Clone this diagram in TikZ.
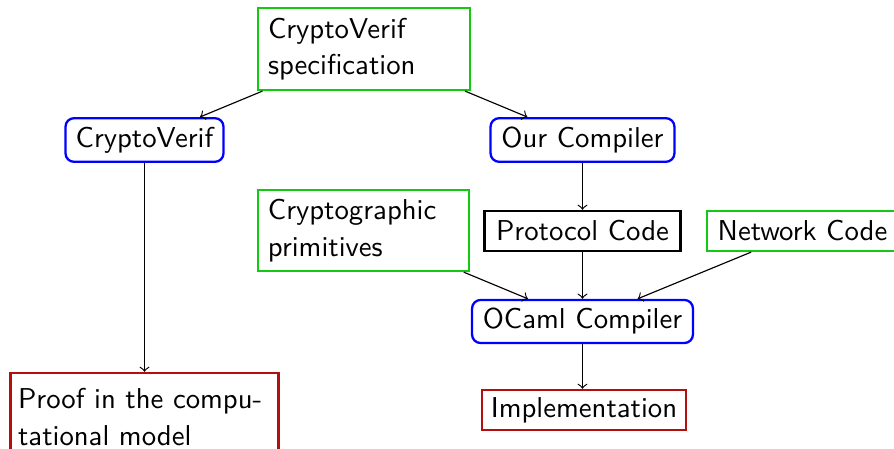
\documentclass[tikz,border=0pt]{standalone}
\definecolor{boxgreen}{RGB}{20,200,20}
\definecolor{boxred}{RGB}{180,15,15}
\begin{document}
\begin{tikzpicture}[x=0.348pt,y=-0.348pt,
  font=\sffamily\fontsize{10}{12.7}\selectfont,
  basebox/.style={draw, line width=0.8pt, inner sep=0pt, minimum height=13.9pt},
  gbox/.style={basebox, draw=boxgreen},
  bbox/.style={basebox, draw=blue, rounded corners=3pt, minimum height=15.2pt},
  rbox/.style={basebox, draw=boxred},
  kbox/.style={basebox, draw=black},
  multi/.style={align=left, text width=#1},
  conn/.style={->, line width=0.4pt}
]
\useasboundingbox (0,0) rectangle (894,449);

\node[gbox, minimum width=73.8pt, minimum height=28.5pt, multi=66.8pt] (spec) at (364,49) {CryptoVerif\\specification};
\node[bbox, minimum width=55pt] (cv) at (144.5,140) {CryptoVerif};
\node[bbox, minimum width=64pt] (oc) at (582.5,140) {Our Compiler};
\node[gbox, minimum width=73.4pt, minimum height=28.2pt, multi=66.5pt] (prim) at (363.5,230.5) {Cryptographic\\primitives};
\node[kbox, minimum width=68.2pt] (pc) at (582.5,231) {Protocol Code};
\node[gbox, minimum width=66.5pt] (nc) at (802.5,231) {Network Code};
\node[bbox, minimum width=76.9pt, minimum height=15pt] (ocaml) at (582.5,321.5) {OCaml Compiler};
\node[rbox, minimum width=93.3pt, minimum height=30.6pt, multi=88pt] (proof) at (144.5,417) {Proof in the compu-\\tational model};
\node[rbox, minimum width=71pt] (impl) at (584,410) {Implementation};

\draw[conn] (spec) -- (cv);
\draw[conn] (spec) -- (oc);
\draw[conn] (cv) -- (proof);
\draw[conn] (oc) -- (pc);
\draw[conn] (pc) -- (ocaml);
\draw[conn] (prim) -- (ocaml);
\draw[conn] (nc) -- (ocaml);
\draw[conn] (ocaml.south) -- (ocaml.south |- impl.north);
\end{tikzpicture}
\end{document}
